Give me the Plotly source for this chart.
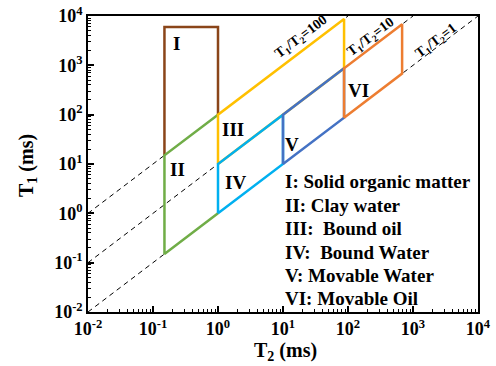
import plotly.graph_objects as go

# ---- data ----
ratio_values = [1, 10, 100]
ratio_labels = ["T<sub>1</sub>/T<sub>2</sub>=1", "T<sub>1</sub>/T<sub>2</sub>=10", "T<sub>1</sub>/T<sub>2</sub>=100"]
ratio_label_x = [3.354, 2.354, 1.277]   # log10 T2
ratio_label_y = [3.477, 3.557, 3.557]   # log10 T1
t2_span = [0.01, 10000]

region_names = ["I", "II", "III", "IV", "V", "VI"]
region_colors = ["#8A4519", "#70AD47", "#FFC000", "#00B0F0", "#4472C4", "#ED7D31"]
region_t2 = [
    [0.15, 0.15, 1, 1],
    [1, 0.15, 0.15, 1],
    [1, 1, 87, 87, 1],
    [1, 1, 10, 10, 1],
    [10, 10, 87, 87, 10],
    [87, 87, 680, 680, 87],
]
region_t1 = [
    [15, 6000, 6000, 100],
    [100, 15, 0.15, 1],
    [10, 100, 8700, 870, 10],
    [1, 10, 100, 10, 1],
    [10, 100, 870, 87, 10],
    [87, 870, 6800, 680, 87],
]
region_label_x = [-0.646, -0.63, 0.231, 0.262, 1.138, 2.154]
region_label_y = [3.436, 0.88, 1.69, 0.617, 1.387, 2.483]

legend_lines = [
    "I: Solid organic matter",
    "II: Clay water",
    "III:  Bound oil",
    "IV:  Bound Water",
    "V: Movable Water",
    "VI: Movable Oil",
]
legend_y = [182, 205, 228, 252, 275, 298]  # pixel rows

tick_vals = [0.01, 0.1, 1, 10, 100, 1000, 10000]
tick_text = ["10<sup>-2</sup>", "10<sup>-1</sup>", "10<sup>0</sup>", "10<sup>1</sup>",
             "10<sup>2</sup>", "10<sup>3</sup>", "10<sup>4</sup>"]

FONT = "Liberation Serif"
W, H = 496, 366
PX0, PY0, PW, PH = 88, 16, 390, 296   # plot area in pixels
L, T = PX0, PY0
R = W - L - PW
B = H - T - PH


def px_to_paper(px, py):
    return (px - PX0) / PW, (PY0 + PH - py) / PH


fig = go.Figure()

# dashed reference lines
for r in ratio_values:
    xs = [t2_span[0], min(t2_span[1], 10000 / r)]
    ys = [x * r for x in xs]
    fig.add_trace(go.Scatter(x=xs, y=ys, mode="lines",
                             line=dict(color="black", width=1, dash="5px,4px"),
                             showlegend=False, hoverinfo="skip"))

# regions
for xs, ys, c in zip(region_t2, region_t1, region_colors):
    fig.add_trace(go.Scatter(x=xs, y=ys, mode="lines",
                             line=dict(color=c, width=2.5),
                             showlegend=False, hoverinfo="skip"))

annotations = []
for txt, x, y in zip(ratio_labels, ratio_label_x, ratio_label_y):
    annotations.append(dict(x=x, y=y, xref="x", yref="y", text=txt, showarrow=False,
                            textangle=-37, xanchor="center", yanchor="middle",
                            font=dict(family=FONT, size=14, color="black", weight="bold")))
for txt, x, y in zip(region_names, region_label_x, region_label_y):
    annotations.append(dict(x=x, y=y, xref="x", yref="y", text=txt, showarrow=False,
                            xanchor="center", yanchor="middle",
                            font=dict(family=FONT, size=19, color="black", weight="bold")))
for txt, py in zip(legend_lines, legend_y):
    ax, ay = px_to_paper(283, py)
    annotations.append(dict(x=ax, y=ay, xref="paper", yref="paper",
                            text=txt, showarrow=False, xanchor="left", yanchor="middle",
                            font=dict(family=FONT, size=19, color="black", weight="bold")))
# axis titles
ax, ay = px_to_paper(27, 166)
annotations.append(dict(x=ax, y=ay, xref="paper", yref="paper",
                        text="T<sub>1</sub> (ms)", showarrow=False, textangle=-90,
                        xanchor="center", yanchor="middle",
                        font=dict(family=FONT, size=20, color="black", weight="bold")))
ax, ay = px_to_paper(285, 351)
annotations.append(dict(x=ax, y=ay, xref="paper", yref="paper",
                        text="T<sub>2</sub> (ms)", showarrow=False,
                        xanchor="center", yanchor="middle",
                        font=dict(family=FONT, size=20, color="black", weight="bold")))

minor_vals = [k * 10 ** e for e in range(-2, 4) for k in range(2, 10)]

axis_common = dict(
    type="log", range=[-2, 4], tickmode="array", tickvals=tick_vals, ticktext=tick_text,
    ticks="inside", ticklen=6, tickwidth=1.5, tickcolor="black",
    showline=True, linecolor="black", linewidth=1.5, mirror=True,
    showgrid=False, zeroline=False,
    tickfont=dict(family=FONT, size=18, color="black", weight="bold"),
    minor=dict(tickmode="array", tickvals=minor_vals, ticks="inside", ticklen=3,
               tickwidth=1, tickcolor="black", showgrid=False),
)

fig.update_layout(
    width=W, height=H,
    margin=dict(l=L, r=R, t=T, b=B),
    paper_bgcolor="white", plot_bgcolor="white",
    xaxis=dict(**axis_common, automargin=False),
    yaxis=dict(**axis_common, automargin=False),
    annotations=annotations,
    showlegend=False,
)

fig.write_html("out.html", config={"displayModeBar": False},
               post_script="document.body.style.margin='0';")
